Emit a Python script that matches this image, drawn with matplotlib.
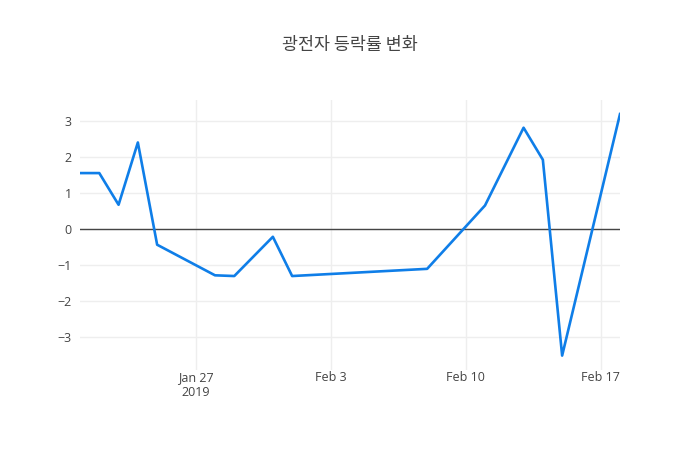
import numpy as np
import pandas as pd
import matplotlib
matplotlib.use("Agg")
import matplotlib.pyplot as plt
import matplotlib.dates as mdates

plt.rcParams['font.family'] = ['Open Sans', 'Noto Sans CJK KR', 'DejaVu Sans']

# -----------------------------
# DATA
# -----------------------------
dates = pd.to_datetime([
    "2019-01-21", "2019-01-22", "2019-01-23", "2019-01-24", "2019-01-25",
    "2019-01-28", "2019-01-29", "2019-01-31", "2019-02-01", "2019-02-08",
    "2019-02-11", "2019-02-13", "2019-02-14", "2019-02-15", "2019-02-18",
])
change = [1.55, 1.55, 0.67, 2.40, -0.44,
          -1.29, -1.31, -0.22, -1.31, -1.11,
          0.65, 2.81, 1.92, -3.52, 3.19]
title = "광전자 등락률 변화"

tick_dates = pd.to_datetime(["2019-01-27", "2019-02-03", "2019-02-10", "2019-02-17"])
tick_labels = ["Jan 27\n2019", "Feb 3", "Feb 10", "Feb 17"]

# -----------------------------
# PLOT
# -----------------------------
fig = plt.figure(figsize=(7, 4.5), dpi=100)
ax = fig.add_axes([80 / 700, 80 / 450, 540 / 700, 270 / 450])

ax.plot(dates, change, color="#0f7ee8", linewidth=1.9, zorder=3)
ax.axhline(0, color="#444444", linewidth=1, zorder=2)

ax.set_xlim(dates[0], dates[-1])
ax.set_ylim(-3.92, 3.58)

ax.set_xticks(tick_dates)
ax.set_xticklabels(tick_labels)
ax.set_yticks([-3, -2, -1, 0, 1, 2, 3])
ax.set_yticklabels(["\u22123", "\u22122", "\u22121", "0", "1", "2", "3"])

ax.grid(color="#eeeeee", linewidth=1)
ax.set_axisbelow(True)
for s in ax.spines.values():
    s.set_visible(False)
ax.tick_params(length=0, labelsize=9, colors="#444444", pad=6)
ax.tick_params(axis="x", pad=1)

fig.text(0.5, 1 - 45 / 450, title, ha="center", va="center",
         fontsize=12.5, color="#444444",
         family=['Noto Sans CJK KR', 'DejaVu Sans'])

fig.savefig("out.png", dpi=100, facecolor="white")
